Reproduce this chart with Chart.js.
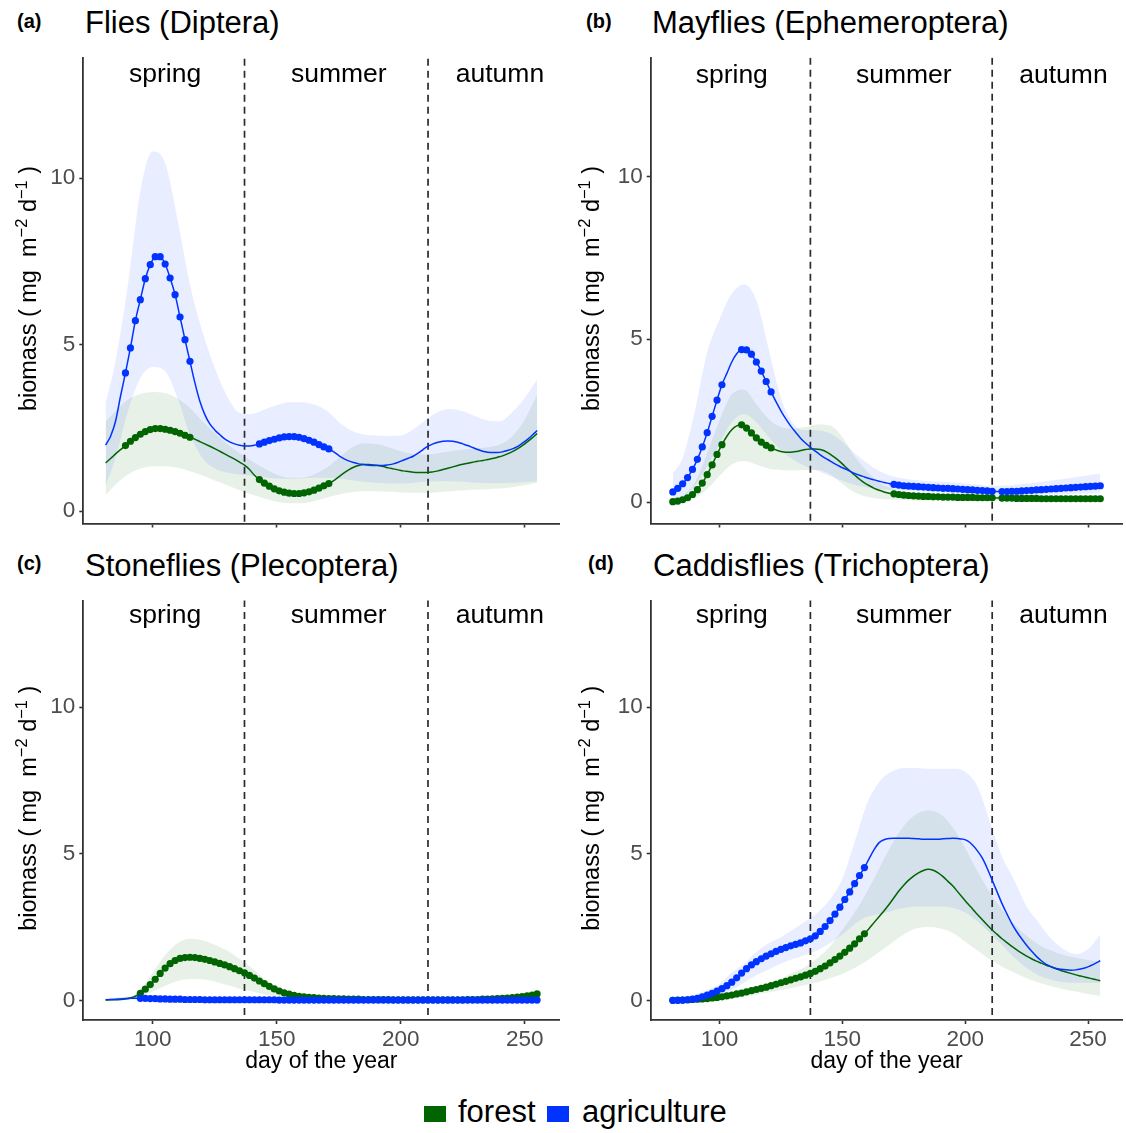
<!DOCTYPE html>
<html><head><meta charset="utf-8">
<script src="https://cdn.jsdelivr.net/npm/chart.js@4.4.1/dist/chart.umd.min.js"></script>
<style>
html,body{margin:0;padding:0;background:#fff;}
body{width:1126px;height:1133px;position:relative;overflow:hidden;font-family:"Liberation Sans",Arial,Helvetica,sans-serif;}
.pc{position:absolute;}
.pc canvas{display:block;}
.txt{position:absolute;white-space:nowrap;line-height:0;color:#000;}
.key{position:absolute;width:22px;height:16px;}
</style></head><body>
<div class="pc" style="left:0;top:40px;width:563px;height:501px"><canvas id="cA" width="563" height="501" style="width:563px;height:501px"></canvas></div>
<div class="pc" style="left:563px;top:40px;width:563px;height:501px"><canvas id="cB" width="563" height="501" style="width:563px;height:501px"></canvas></div>
<div class="pc" style="left:0;top:583px;width:563px;height:502px"><canvas id="cC" width="563" height="502" style="width:563px;height:502px"></canvas></div>
<div class="pc" style="left:563px;top:583px;width:563px;height:502px"><canvas id="cD" width="563" height="502" style="width:563px;height:502px"></canvas></div>

<div class="txt" style="left:17px;top:21px;font-size:20px;font-weight:bold">(a)</div>
<div class="txt" style="left:85px;top:23.3px;font-size:31px">Flies (Diptera)</div>
<div class="txt" style="left:586px;top:21px;font-size:20px;font-weight:bold">(b)</div>
<div class="txt" style="left:652px;top:23.3px;font-size:31px">Mayflies (Ephemeroptera)</div>
<div class="txt" style="left:17px;top:563px;font-size:20px;font-weight:bold">(c)</div>
<div class="txt" style="left:85px;top:566.3px;font-size:31px">Stoneflies (Plecoptera)</div>
<div class="txt" style="left:588px;top:563px;font-size:20px;font-weight:bold">(d)</div>
<div class="txt" style="left:653px;top:566.3px;font-size:31px">Caddisflies (Trichoptera)</div>

<div class="key" style="left:424px;top:1106px;background:#006400"></div>
<div class="txt" style="left:458px;top:1112.3px;font-size:31px">forest</div>
<div class="key" style="left:547px;top:1106px;background:#0033ff"></div>
<div class="txt" style="left:582px;top:1112.3px;font-size:31px">agriculture</div>

<script>
// ---------- data ----------
const days = [81,83,85,87,89,91,93,95,97,99,101,103,105,107,109,111,113,115,117,119,121,123,125,127,129,131,133,135,137,139,141,143,145,147,149,151,153,155,157,159,161,163,165,167,169,171,173,175,177,179,181,183,185,187,189,191,193,195,197,199,201,203,205,207,209,211,213,215,217,219,221,223,225,227,229,231,233,235,237,239,241,243,245,247,249,251,253,255];
const ribbonDays = [81,85,90,95,100,105,110,115,120,125,130,135,140,145,150,155,160,165,170,175,180,185,190,195,200,205,210,215,220,225,230,235,240,245,250,255];
const xTicks = [100,150,200,250];
const yTicks = [0,5,10];
const seasonNames = ['spring','summer','autumn'];
const seasonCenters = [105,175,240];
const seasonBreaks = [137,211];
const groups = ['forest','agriculture'];
const yTitleParts = [['biomass ( mg  m', false], ['\u22122', true], [' d', false], ['\u22121', true], [' )', false]];

// (a) Flies (Diptera)
const fliesAgri = [1.98,2.25,2.7,3.45,4.15,4.9,5.72,6.35,6.98,7.4,
 7.64,7.64,7.42,7.0,6.5,5.83,5.15,4.5,3.85,3.3,
 2.9,2.62,2.44,2.3,2.17,2.08,2.02,1.98,1.96,1.96,
 1.98,2.02,2.07,2.12,2.16,2.2,2.23,2.24,2.24,2.22,
 2.18,2.13,2.07,2.0,1.93,1.87,1.78,1.67,1.58,1.51,
 1.46,1.42,1.4,1.38,1.37,1.37,1.37,1.39,1.42,1.47,
 1.53,1.59,1.65,1.74,1.85,1.95,2.02,2.07,2.1,2.11,
 2.1,2.07,2.02,1.97,1.91,1.85,1.8,1.77,1.76,1.76,
 1.78,1.82,1.87,1.94,2.04,2.15,2.28,2.42];
const fliesForest = [1.45,1.58,1.72,1.85,1.97,2.1,2.21,2.31,2.39,2.45,
 2.48,2.48,2.46,2.43,2.39,2.34,2.28,2.22,2.16,2.09,
 2.02,1.95,1.88,1.8,1.72,1.64,1.56,1.47,1.38,1.25,
 1.08,0.95,0.84,0.75,0.67,0.61,0.57,0.54,0.53,0.53,
 0.55,0.58,0.63,0.69,0.76,0.83,0.92,1.03,1.14,1.24,
 1.32,1.37,1.4,1.4,1.39,1.37,1.34,1.3,1.27,1.24,
 1.21,1.19,1.17,1.16,1.16,1.16,1.18,1.21,1.25,1.29,
 1.33,1.37,1.41,1.44,1.47,1.5,1.52,1.55,1.58,1.62,
 1.66,1.72,1.79,1.87,1.97,2.08,2.2,2.33];
const fliesAgriHi = [3.24,4.5,6.8,9.6,10.8,10.45,8.75,6.8,5.4,4.3,3.45,2.95,2.92,3.05,3.18,3.27,3.27,3.2,3.02,2.68,2.42,2.3,2.27,2.26,2.27,2.45,2.74,2.98,3.07,3.0,2.85,2.72,2.7,2.98,3.4,3.95];
const fliesAgriLo = [0.77,1.6,3.0,4.0,4.33,4.2,3.4,2.3,1.6,1.28,1.16,1.1,1.06,1.02,0.98,0.97,0.98,1.0,1.0,0.97,0.93,0.88,0.85,0.83,0.83,0.85,0.88,0.9,0.9,0.88,0.85,0.84,0.84,0.85,0.87,0.9];
const fliesForestHi = [2.7,3.0,3.35,3.52,3.58,3.55,3.38,3.1,2.7,2.35,2.02,1.75,1.5,1.28,1.1,1.0,1.0,1.1,1.3,1.6,1.9,2.03,2.02,1.92,1.8,1.72,1.7,1.74,1.8,1.85,1.88,1.92,2.0,2.25,2.75,3.5];
const fliesForestLo = [0.48,0.8,1.1,1.28,1.35,1.35,1.3,1.2,1.07,0.92,0.78,0.63,0.5,0.38,0.28,0.24,0.24,0.3,0.4,0.5,0.57,0.6,0.6,0.58,0.56,0.55,0.55,0.57,0.6,0.62,0.64,0.66,0.68,0.72,0.78,0.85];
const fliesAgriSig = [[89,115],[143,171]];
const fliesForestSig = [[89,115],[143,171]];

// (b) Mayflies (Ephemeroptera)
const mayAgri = [0.31,0.42,0.56,0.75,1.0,1.31,1.69,2.13,2.63,3.13,
 3.6,3.95,4.3,4.55,4.68,4.67,4.54,4.3,4.02,3.7,
 3.38,3.08,2.8,2.55,2.33,2.14,1.96,1.81,1.68,1.56,
 1.45,1.35,1.26,1.17,1.09,1.02,0.95,0.88,0.82,0.77,
 0.72,0.68,0.64,0.6,0.57,0.54,0.52,0.5,0.49,0.48,
 0.47,0.46,0.45,0.44,0.43,0.42,0.42,0.41,0.4,0.39,
 0.38,0.37,0.36,0.35,0.34,0.33,0.32,0.32,0.32,0.33,
 0.33,0.34,0.35,0.36,0.37,0.38,0.39,0.4,0.41,0.42,
 0.43,0.44,0.45,0.46,0.47,0.48,0.49,0.5];
const mayForest = [0.01,0.03,0.07,0.13,0.23,0.38,0.58,0.84,1.14,1.46,
 1.76,2.02,2.22,2.34,2.37,2.27,2.12,1.97,1.84,1.74,
 1.66,1.6,1.55,1.53,1.53,1.55,1.58,1.61,1.63,1.63,
 1.61,1.56,1.47,1.36,1.24,1.1,0.96,0.83,0.7,0.59,
 0.5,0.42,0.36,0.31,0.27,0.25,0.23,0.21,0.2,0.19,
 0.18,0.17,0.17,0.16,0.16,0.15,0.15,0.15,0.14,0.14,
 0.14,0.14,0.13,0.13,0.13,0.13,0.12,0.12,0.12,0.12,
 0.11,0.11,0.11,0.11,0.11,0.1,0.1,0.1,0.1,0.1,
 0.1,0.1,0.1,0.1,0.1,0.1,0.1,0.1];
const mayAgriHi = [0.87,1.35,2.8,4.6,5.6,6.4,6.68,6.2,4.7,3.2,2.4,2.2,2.2,2.1,1.85,1.5,1.2,0.95,0.8,0.72,0.67,0.64,0.62,0.6,0.57,0.54,0.5,0.5,0.53,0.57,0.61,0.66,0.71,0.76,0.82,0.87];
const mayAgriLo = [0.0,0.15,0.5,1.1,1.8,2.45,2.7,2.45,2.0,1.6,1.3,1.1,0.95,0.8,0.65,0.52,0.45,0.4,0.37,0.35,0.33,0.31,0.29,0.27,0.25,0.23,0.21,0.2,0.2,0.21,0.22,0.23,0.24,0.25,0.26,0.27];
const mayForestHi = [0.08,0.2,0.6,1.5,2.5,3.3,3.45,3.0,2.55,2.3,2.25,2.3,2.38,2.35,2.0,1.4,0.95,0.6,0.42,0.33,0.28,0.25,0.23,0.22,0.21,0.2,0.2,0.2,0.2,0.2,0.2,0.2,0.2,0.2,0.21,0.22];
const mayForestLo = [-0.03,0.0,0.12,0.4,0.8,1.15,1.26,1.15,1.02,0.98,0.97,0.98,0.98,0.85,0.55,0.3,0.16,0.1,0.08,0.06,0.05,0.05,0.05,0.04,0.04,0.04,0.04,0.03,0.03,0.03,0.03,0.03,0.03,0.02,0.02,0.02];
const mayAgriSig = [[81,101],[109,121],[171,211],[215,255]];
const mayForestSig = [[81,101],[109,121],[171,211],[215,255]];

// (c) Stoneflies (Plecoptera)
const stoneAgri = [0.02,0.03,0.04,0.05,0.06,0.07,0.07,0.07,0.07,0.06,
 0.06,0.05,0.05,0.04,0.04,0.04,0.03,0.03,0.03,0.03,
 0.02,0.02,0.02,0.02,0.02,0.02,0.02,0.02,0.02,0.02,
 0.02,0.02,0.02,0.02,0.02,0.01,0.01,0.01,0.01,0.01,
 0.01,0.01,0.01,0.01,0.01,0.01,0.01,0.01,0.01,0.01,
 0.01,0.01,0.01,0.01,0.01,0.01,0.01,0.01,0.01,0.01,
 0.01,0.01,0.01,0.01,0.01,0.01,0.01,0.01,0.01,0.01,
 0.01,0.01,0.01,0.01,0.01,0.01,0.01,0.01,0.01,0.01,
 0.01,0.01,0.01,0.01,0.01,0.01,0.01,0.01];
const stoneForest = [0.01,0.02,0.02,0.03,0.05,0.08,0.14,0.24,0.38,0.54,
 0.72,0.92,1.1,1.25,1.36,1.43,1.46,1.47,1.46,1.43,
 1.4,1.36,1.31,1.26,1.21,1.15,1.08,1.01,0.94,0.85,
 0.76,0.66,0.57,0.48,0.39,0.32,0.26,0.21,0.17,0.14,
 0.12,0.1,0.09,0.08,0.07,0.06,0.06,0.05,0.05,0.04,
 0.04,0.04,0.03,0.03,0.03,0.03,0.03,0.03,0.02,0.02,
 0.02,0.02,0.02,0.02,0.02,0.02,0.02,0.02,0.02,0.02,
 0.02,0.02,0.02,0.03,0.03,0.03,0.04,0.04,0.05,0.06,
 0.07,0.08,0.09,0.11,0.13,0.15,0.18,0.22];
const stoneAgriHi = [0.08,0.1,0.12,0.12,0.1,0.09,0.08,0.07,0.06,0.05,0.05,0.05,0.04,0.04,0.04,0.04,0.03,0.03,0.03,0.03,0.03,0.03,0.03,0.03,0.03,0.03,0.03,0.03,0.03,0.03,0.03,0.03,0.03,0.03,0.03,0.04];
const stoneAgriLo = [-0.04,-0.02,0.01,0.03,0.03,0.02,0.02,0.01,0.01,0.0,0.0,0.0,0.0,0.0,0.0,0.0,0.0,0.0,0.0,0.0,0.0,0.0,0.0,0.0,0.0,0.0,0.0,0.0,0.0,0.0,0.0,0.0,0.0,0.0,0.0,0.0];
const stoneForestHi = [0.03,0.04,0.1,0.35,0.95,1.55,1.95,2.1,2.05,1.9,1.7,1.42,1.1,0.72,0.42,0.24,0.15,0.11,0.09,0.08,0.07,0.06,0.06,0.05,0.05,0.05,0.05,0.05,0.05,0.05,0.06,0.07,0.1,0.14,0.19,0.27];
const stoneForestLo = [0.0,0.0,0.03,0.13,0.3,0.5,0.66,0.73,0.72,0.64,0.52,0.4,0.3,0.2,0.12,0.08,0.06,0.04,0.03,0.02,0.02,0.01,0.01,0.01,0.01,0.01,0.01,0.01,0.01,0.01,0.02,0.03,0.05,0.07,0.1,0.15];
const stoneAgriSig = [[95,255]];
const stoneForestSig = [[95,255]];

// (d) Caddisflies (Trichoptera)
const caddAgri = [0.0,0.0,0.01,0.02,0.04,0.07,0.12,0.18,0.24,0.32,
 0.4,0.5,0.62,0.77,0.93,1.08,1.21,1.32,1.42,1.51,
 1.59,1.67,1.74,1.8,1.86,1.91,1.96,2.03,2.1,2.2,
 2.35,2.52,2.72,2.94,3.18,3.44,3.7,3.98,4.26,4.53,
 4.85,5.15,5.38,5.48,5.52,5.53,5.53,5.53,5.53,5.52,
 5.51,5.5,5.5,5.5,5.5,5.51,5.52,5.53,5.52,5.5,
 5.44,5.3,5.1,4.85,4.5,4.1,3.7,3.3,2.95,2.62,
 2.34,2.1,1.88,1.68,1.5,1.35,1.23,1.15,1.09,1.06,
 1.04,1.03,1.04,1.07,1.11,1.18,1.26,1.35];
const caddForest = [0.0,0.01,0.01,0.02,0.03,0.04,0.05,0.06,0.08,0.1,
 0.12,0.15,0.18,0.22,0.25,0.29,0.33,0.37,0.41,0.45,
 0.5,0.55,0.6,0.65,0.7,0.75,0.8,0.86,0.92,0.99,
 1.08,1.17,1.28,1.39,1.51,1.64,1.78,1.93,2.1,2.27,
 2.46,2.66,2.86,3.06,3.27,3.5,3.73,3.93,4.1,4.24,
 4.35,4.43,4.47,4.44,4.35,4.22,4.06,3.9,3.7,3.5,
 3.3,3.12,2.93,2.75,2.57,2.4,2.25,2.1,1.97,1.84,
 1.72,1.61,1.51,1.42,1.34,1.27,1.2,1.14,1.08,1.02,
 0.97,0.92,0.87,0.83,0.79,0.75,0.71,0.67];
const caddAgriHi = [0.05,0.08,0.2,0.35,0.56,0.95,1.25,1.65,1.95,2.15,2.42,2.7,3.0,3.45,4.15,5.4,6.7,7.45,7.8,7.93,7.93,7.9,7.9,7.9,7.8,7.3,6.1,4.9,4.1,3.2,2.65,2.1,1.75,1.57,1.75,2.25];
const caddAgriLo = [-0.03,-0.02,0.02,0.05,0.15,0.35,0.6,0.85,1.05,1.25,1.42,1.55,1.72,1.95,2.25,2.6,2.85,2.95,3.05,3.15,3.2,3.2,3.2,3.15,3.0,2.7,2.3,1.9,1.45,1.1,0.85,0.7,0.62,0.6,0.6,0.6];
const caddForestHi = [0.02,0.03,0.05,0.08,0.12,0.2,0.3,0.42,0.58,0.75,0.95,1.15,1.45,1.85,2.4,3.0,3.7,4.5,5.3,5.95,6.35,6.48,6.35,5.9,5.2,4.4,3.7,3.1,2.6,2.2,1.9,1.7,1.55,1.45,1.38,1.32];
const caddForestLo = [-0.02,-0.01,0.0,0.02,0.05,0.09,0.14,0.2,0.27,0.35,0.43,0.52,0.62,0.75,0.9,1.1,1.35,1.65,1.95,2.25,2.45,2.5,2.45,2.3,2.0,1.7,1.4,1.15,0.95,0.75,0.6,0.48,0.38,0.3,0.22,0.15];
const caddAgriSig = [[81,159]];
const caddForestSig = [[81,159]];

// ---------- styling ----------
const AGRI = '#0033ff', FOREST = '#006400';
const AGRI_FILL = 'rgba(0,51,255,0.09)', FOREST_FILL = 'rgba(0,100,0,0.09)';
const FONT = '"Liberation Sans", Arial, Helvetica, sans-serif';
const SEASON_LABEL_Y = 12.88;
Chart.defaults.font.family = FONT;

function inRanges(x, ranges){ return ranges.some(r => x >= r[0] && x <= r[1]); }
function pts(xs, ys){ return xs.map((x,i) => ({x:x, y:ys[i]})); }

const seasonPlugin = {
  id:'seasons',
  afterDatasetsDraw(chart){
    const ctx = chart.ctx, xs = chart.scales.x, ys = chart.scales.y;
    ctx.save();
    ctx.font = '26.5px ' + FONT;
    ctx.fillStyle = '#000';
    ctx.textAlign = 'center';
    ctx.textBaseline = 'alphabetic';
    seasonNames.forEach((n,i) => ctx.fillText(n, xs.getPixelForValue(seasonCenters[i]), ys.getPixelForValue(SEASON_LABEL_Y)));
    ctx.restore();
  }
};

// y-axis title with real superscripts, drawn rotated at the left of each panel
const yTitlePlugin = {
  id:'ytitle',
  afterDraw(chart){
    const ctx = chart.ctx, ca = chart.chartArea;
    const mainF = '23.5px ' + FONT, supF = '16.5px ' + FONT;
    ctx.save();
    let total = 0;
    const w = yTitleParts.map(([t, sup]) => { ctx.font = sup ? supF : mainF; const m = ctx.measureText(t).width; total += m; return m; });
    ctx.translate(36, (ca.top + ca.bottom) / 2 - 2);
    ctx.rotate(-Math.PI / 2);
    ctx.fillStyle = '#000';
    ctx.textAlign = 'left';
    ctx.textBaseline = 'alphabetic';
    let x = -total / 2;
    yTitleParts.forEach(([t, sup], i) => {
      ctx.font = sup ? supF : mainF;
      ctx.fillText(t, x, sup ? -9.5 : 0);
      x += w[i];
    });
    ctx.restore();
  }
};

function meanSet(label, vals, sig, color, order){
  return {label, data: pts(days, vals), borderColor: color, backgroundColor: color,
    borderWidth: 1.5, pointBackgroundColor: color, pointBorderWidth: 0,
    pointRadius: c => (c.raw && inRanges(c.raw.x, sig)) ? 3.6 : 0, pointHoverRadius: 0,
    cubicInterpolationMode: 'monotone', fill: false, order};
}
function vline(xv, order){
  return {label:'break', data:[{x:xv,y:-5},{x:xv,y:20}], borderColor:'#2b2b2b', borderWidth:1.7,
    borderDash:[7,5], pointRadius:0, fill:false, tension:0, order};
}
function bandSet(label, vals, fill, color, order){
  return {label, data: pts(ribbonDays, vals), borderColor:'rgba(0,0,0,0)', borderWidth:0,
    pointRadius:0, fill: fill, backgroundColor: color, cubicInterpolationMode:'monotone', order};
}

function makePanel(id, p){
  const grid = {display:true, drawOnChartArea:false, drawTicks:true, tickLength:4, tickWidth:1.6, tickColor:'#333'};
  const border = {display:true, color:'#333', width:1.8};
  new Chart(document.getElementById(id), {
    type:'line',
    data:{datasets:[
      meanSet(groups[1], p.agri, p.agriSig, AGRI, 0),
      meanSet(groups[0], p.forest, p.forestSig, FOREST, 1),
      vline(seasonBreaks[0], 2),
      vline(seasonBreaks[1], 3),
      bandSet('agri lo', p.agriLo, false, AGRI_FILL, 4),
      bandSet('agri hi', p.agriHi, '-1', AGRI_FILL, 5),
      bandSet('forest lo', p.forestLo, false, FOREST_FILL, 6),
      bandSet('forest hi', p.forestHi, '-1', FOREST_FILL, 7)
    ]},
    options:{
      responsive:false, animation:false, devicePixelRatio:1, events:[],
      layout:{padding:{top:10, right:p.padR, left:0, bottom:0}},
      plugins:{legend:{display:false}, tooltip:{enabled:false}},
      scales:{
        x:{type:'linear', min:72, max:264,
          afterBuildTicks: s => { s.ticks = xTicks.map(v => ({value:v})); },
          ticks:{display:p.bottom, font:{size:22.5}, color:'#4d4d4d', padding:2, maxRotation:0, autoSkip:false},
          grid, border,
          title:{display:p.bottom, text:'day of the year', font:{size:23}, color:'#000', padding:{top:0, bottom:10}},
          afterFit: s => { s.height = p.xh; }
        },
        y:{type:'linear', min:p.ymin, max:p.ymax,
          afterBuildTicks: s => { s.ticks = yTicks.map(v => ({value:v})); },
          ticks:{font:{size:22.5}, color:'#4d4d4d', padding:4},
          grid, border,
          title:{display:false},
          afterFit: s => { s.width = p.yw; }
        }
      }
    },
    plugins:[seasonPlugin, yTitlePlugin]
  });
}

makePanel('cA', {agri:fliesAgri, forest:fliesForest, agriHi:fliesAgriHi, agriLo:fliesAgriLo, forestHi:fliesForestHi, forestLo:fliesForestLo,
  agriSig:fliesAgriSig, forestSig:fliesForestSig, ymin:-0.37, ymax:13.62, yw:83.3, padR:3.5, xh:8, bottom:false});
makePanel('cB', {agri:mayAgri, forest:mayForest, agriHi:mayAgriHi, agriLo:mayAgriLo, forestHi:mayForestHi, forestLo:mayForestLo,
  agriSig:mayAgriSig, forestSig:mayForestSig, ymin:-0.66, ymax:13.65, yw:87.7, padR:0, xh:8, bottom:false});
makePanel('cC', {agri:stoneAgri, forest:stoneForest, agriHi:stoneAgriHi, agriLo:stoneAgriLo, forestHi:stoneForestHi, forestLo:stoneForestLo,
  agriSig:stoneAgriSig, forestSig:stoneForestSig, ymin:-0.67, ymax:13.64, yw:83.3, padR:3.5, xh:65, bottom:true});
makePanel('cD', {agri:caddAgri, forest:caddForest, agriHi:caddAgriHi, agriLo:caddAgriLo, forestHi:caddForestHi, forestLo:caddForestLo,
  agriSig:caddAgriSig, forestSig:caddForestSig, ymin:-0.67, ymax:13.64, yw:87.7, padR:0, xh:65, bottom:true});
</script>
</body></html>
